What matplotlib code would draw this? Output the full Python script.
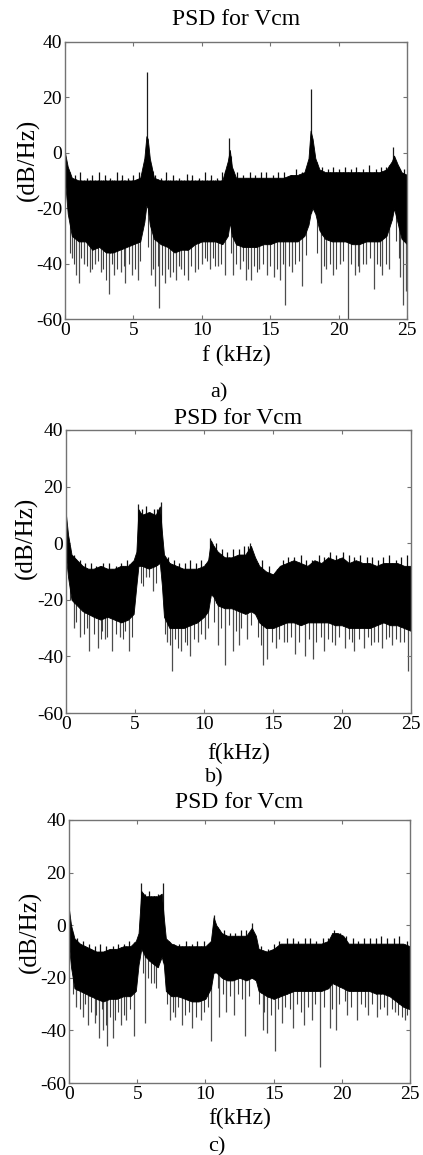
import numpy as np
import matplotlib
matplotlib.use('Agg')
import matplotlib.pyplot as plt

plt.rcParams['font.family'] = ['Liberation Serif', 'DejaVu Serif']
plt.rcParams['axes.unicode_minus'] = False

# ---------------- data ----------------
# dense band of the PSD trace: frequency (kHz), top and bottom (dB/Hz)
# up_* : tall spikes above the band, dn_* : deep spikes below it
# top_* / fz_* : short ticks that make the ragged upper / lower edge

a_f = [0, 0.2, 0.5, 1, 1.5, 2, 2.5, 3, 3.5, 4, 4.5, 5, 5.5, 5.8, 5.95, 6.05, 6.2, 6.5, 7, 7.5, 8, 8.5, 9, 9.5,
       10, 10.5, 11, 11.5, 11.9, 12.05, 12.2, 12.5, 13, 13.5, 14, 14.5, 15, 15.5, 16, 16.5, 17, 17.5, 17.8,
       17.95, 18.1, 18.3, 18.6, 19, 19.5, 20, 20.5, 21, 21.5, 22, 22.5, 23, 23.5, 23.9, 24.05, 24.3, 24.6, 25]
a_hi = [0, -5, -9, -10, -10, -10, -10, -10, -10, -10, -10, -10, -9, -2, 6, 5, -2, -9, -10, -10, -10, -10, -10, -10,
        -10, -10, -10, -10, -3, 1, -5, -9, -9, -9, -9, -9, -9, -9, -9, -8, -8, -7, -2,
        8, 5, -2, -6, -7, -7, -7, -7, -7, -7, -7, -7, -7, -6, -3, -1, -4, -7, -8]
a_lo = [-10, -22, -30, -32, -32, -35, -34, -36, -36, -35, -34, -33, -32, -25, -19, -20, -26, -31, -33, -34, -36, -35, -35, -33,
        -32, -32, -32, -33, -30, -25, -30, -33, -34, -34, -34, -33, -33, -32, -32, -32, -32, -30, -26,
        -22, -20, -22, -28, -31, -32, -32, -32, -33, -33, -32, -32, -32, -30, -24, -20, -25, -31, -33]
a_up_f = [5.97, 12.0, 17.97, 24.0]
a_up_v = [29, 5.5, 23, 2]
a_top_f = [0.7, 1.1, 1.6, 2.0, 2.5, 2.9, 3.3, 3.8, 4.2, 4.6, 5.0, 5.4, 6.6, 7.0, 7.4, 7.9, 8.3, 8.9, 9.3, 9.8,
           10.2, 10.7, 11.1, 11.5, 12.6, 13.0, 13.5, 13.9, 14.3, 14.7, 15.2, 15.6, 16.0, 16.5, 16.9, 17.3,
           18.8, 19.2, 19.6, 20.0, 20.5, 20.9, 21.3, 21.8, 22.2, 22.7, 23.1, 23.5, 24.4, 24.8]
a_top_v = [-8, -7, -9, -8, -7, -8, -9, -7, -8, -9, -8, -7, -8, -9, -7, -8, -9, -7.5, -8, -9,
           -7, -8, -9, -7, -7, -8, -7, -8, -7, -7, -8, -7, -7, -8, -6, -7,
           -5, -6, -5, -6, -5, -6, -5, -6, -4.5, -6, -5, -5, -6, -6]
a_dn_f = [0.5, 0.8, 1.0, 1.4, 1.8, 2.2, 2.6, 3.2, 3.6, 4.1, 4.4, 4.9, 5.3, 6.3, 6.6, 6.9, 7.3, 7.7, 8.1, 8.5,
          9.0, 9.5, 10.0, 10.6, 11.2, 11.7, 12.3, 12.8, 13.2, 13.6, 14.2, 14.8, 15.3, 15.7, 16.1, 16.6, 17.3,
          18.7, 19.1, 19.6, 20.1, 20.7, 21.2, 21.5, 22.0, 22.6, 23.2, 23.7, 24.5, 24.7, 24.9]
a_dn_v = [-38, -44, -47, -40, -43, -40, -43, -51, -44, -43, -47, -44, -46, -44, -48, -56, -47, -45, -46, -42,
          -46, -43, -40, -42, -41, -44, -44, -42, -46, -46, -42, -44, -45, -46, -55, -43, -48,
          -47, -42, -44, -40, -61, -44, -43, -40, -49, -44, -42, -45, -55, -50]
a_fz_f = [0.35, 0.65, 1.2, 1.6, 2.0, 2.4, 2.8, 3.0, 3.4, 3.8, 4.3, 4.7, 5.1, 5.5, 6.1, 6.4, 6.8, 7.1, 7.5, 7.9,
          8.3, 8.7, 9.2, 9.7, 10.2, 10.4, 10.8, 11.0, 11.4, 12.1, 12.5, 13.0, 13.4, 13.8, 14.0, 14.5, 15.0,
          15.5, 15.9, 16.4, 16.8, 17.1, 17.6, 18.4, 18.9, 19.4, 19.8, 20.3, 20.9, 21.4, 21.8, 22.3, 22.8,
          23.0, 23.5, 24.2, 24.4]
a_fz_v = [-36, -40, -38, -41, -42, -39, -42, -46, -40, -42, -41, -40, -42, -39, -34, -42, -41, -44, -42, -43,
          -41, -44, -41, -42, -38, -39, -38, -41, -40, -36, -40, -39, -42, -41, -43, -40, -41,
          -42, -40, -41, -40, -39, -37, -36, -41, -40, -42, -39, -40, -41, -40, -38, -40,
          -41, -40, -32, -38]

b_f = [0, 0.15, 0.4, 0.8, 1.2, 1.6, 2, 2.5, 3, 3.5, 4, 4.5, 4.9, 5.1, 5.25, 5.5, 6, 6.5, 6.8, 6.95, 7.1, 7.5, 8,
       8.5, 9, 9.5, 10, 10.3, 10.5, 10.7, 11, 11.5, 12, 12.5, 13, 13.4, 13.7, 14, 14.5, 15, 15.5, 16, 16.5, 17,
       17.5, 18, 18.5, 19, 19.5, 20, 20.5, 21, 21.5, 22, 22.5, 23, 23.5, 24, 24.5, 25]
b_hi = [10, 3, -4, -6, -8, -9, -9, -8, -9, -9, -8, -8, -6, -3, 12, 10, 11, 10, 13, 4, -4, -7, -8,
        -9, -9, -9, -8, -6, 1, -1, -3, -5, -5, -4, -4, -1, -5, -8, -10, -11, -8, -7, -6, -7,
        -8, -6, -7, -5, -6, -5, -7, -6, -7, -7, -8, -7, -7, -7, -8, -8]
b_lo = [-5, -12, -20, -22, -24, -25, -26, -27, -26, -27, -28, -27, -25, -15, -8, -8, -9, -8, -7, -15, -26, -30, -30,
        -30, -29, -28, -26, -24, -18, -19, -22, -23, -23, -24, -25, -24, -25, -28, -30, -30, -29, -28, -28, -29,
        -28, -28, -28, -28, -29, -29, -30, -30, -30, -30, -29, -28, -29, -29, -30, -31]
b_up_f = [5.25, 6.85, 10.45, 13.3]
b_up_v = [14, 14.5, 2, 0]
b_top_f = [0.6, 1.0, 1.4, 1.8, 2.2, 2.7, 3.1, 3.6, 4.0, 4.4, 5.5, 5.8, 6.1, 6.4, 6.6, 7.4, 7.8, 8.2, 8.6, 9.0,
           9.4, 9.8, 10.9, 11.3, 11.7, 12.1, 12.5, 12.9, 13.2, 14.2, 14.7, 15.3, 15.7, 16.1, 16.5, 17.0, 17.4,
           17.8, 18.3, 18.7, 19.1, 19.6, 20.1, 20.5, 20.9, 21.3, 21.8, 22.2, 22.6, 23.0, 23.4, 23.9, 24.3, 24.7]
b_top_v = [-4, -6, -7, -7, -8, -7, -7, -8, -7, -6, 12, 13, 11, 12, 12, -5, -6, -7, -7, -6,
           -7, -6, 0, -2, -3, -2, -2, -1, -1, -6, -8, -9, -6, -5, -5, -4, -6,
           -6, -4, -5, -3, -4, -3, -4, -5, -4, -5, -5, -6, -5, -4, -6, -5, -4]
b_dn_f = [0.6, 1.0, 1.7, 2.3, 2.8, 3.3, 3.9, 4.6, 5.8, 6.3, 7.3, 7.7, 8.3, 9.0, 9.6, 10.1, 11.0, 11.5, 12.1, 12.5,
          13.1, 14.3, 14.6, 15.2, 15.8, 16.6, 17.3, 17.9, 18.7, 19.5, 20.2, 20.9, 21.6, 22.3, 22.9, 23.6, 24.2, 24.8]
b_dn_v = [-30, -33, -38, -37, -34, -38, -33, -38, -12, -17, -35, -45, -38, -40, -35, -34, -36, -43, -38, -36,
          -34, -43, -41, -37, -35, -39, -40, -41, -38, -36, -37, -38, -37, -35, -37, -36, -35, -45]
b_fz_f = [0.3, 0.7, 1.3, 1.5, 2.0, 2.5, 2.6, 3.0, 3.6, 4.1, 4.3, 4.8, 5.4, 5.6, 6.0, 6.5, 7.2, 7.5, 7.9, 8.1,
          8.6, 8.8, 9.3, 9.8, 10.3, 10.7, 11.2, 11.8, 12.3, 12.7, 13.4, 13.9, 14.1, 14.9, 15.4, 16.0, 16.3,
          16.9, 17.6, 18.1, 18.5, 19.0, 19.3, 19.8, 20.5, 20.7, 21.2, 21.9, 22.1, 22.6, 23.2, 23.4, 23.9, 24.5]
b_fz_v = [-20, -28, -32, -30, -32, -34, -31, -33, -32, -34, -31, -33, -14, -15, -12, -14, -32, -36, -34, -37,
          -35, -36, -34, -32, -30, -28, -30, -29, -31, -30, -29, -33, -36, -35, -34, -35, -33,
          -35, -34, -35, -33, -34, -35, -33, -34, -35, -34, -33, -36, -35, -34, -33, -34, -35]

c_f = [0, 0.15, 0.4, 0.8, 1.2, 1.6, 2, 2.5, 3, 3.5, 4, 4.5, 4.9, 5.1, 5.3, 5.6, 6, 6.5, 6.8, 6.95, 7.1, 7.5, 8,
       8.5, 9, 9.5, 10, 10.4, 10.6, 10.8, 11.2, 11.6, 12, 12.5, 13, 13.4, 13.7, 13.9, 14.5, 15, 15.5, 16, 16.5,
       17, 17.5, 18, 18.5, 19, 19.3, 19.7, 20.1, 20.5, 21, 21.5, 22, 22.5, 23, 23.5, 24, 24.5, 25]
c_hi = [6, 0, -5, -7, -8, -9, -10, -10, -9, -9, -8, -8, -6, -3, 13, 11, 11, 11, 12, 3, -5, -7, -8,
        -8, -8, -8, -8, -6, 3, 0, -3, -4, -4, -4, -4, -1, -4, -9, -10, -9, -7, -7, -7,
        -7, -7, -7, -7, -6, -3, -3, -4, -7, -7, -7, -7, -7, -7, -7, -7, -7, -8]
c_lo = [-8, -16, -24, -25, -26, -27, -28, -29, -28, -28, -27, -27, -25, -15, -9, -12, -14, -16, -12, -15, -25, -27, -27,
        -28, -29, -29, -28, -24, -18, -18, -20, -21, -21, -20, -21, -20, -21, -25, -27, -28, -27, -26, -25,
        -25, -25, -25, -25, -24, -22, -23, -24, -25, -25, -25, -25, -26, -26, -27, -29, -31, -32]
c_up_f = [5.3, 6.9, 10.6, 13.4]
c_up_v = [16, 16, 4, 1]
c_top_f = [0.6, 1.0, 1.5, 1.9, 2.3, 2.7, 3.2, 3.6, 4.0, 4.4, 5.6, 5.9, 6.2, 6.5, 7.3, 7.7, 8.1, 8.6, 9.0, 9.4,
           9.9, 11.0, 11.4, 11.8, 12.2, 12.6, 13.0, 14.1, 14.6, 15.0, 15.4, 16.0, 16.4, 16.8, 17.3, 17.7, 18.1,
           18.6, 19.0, 19.4, 19.9, 20.3, 20.8, 21.2, 21.6, 22.1, 22.5, 22.9, 23.3, 23.8, 24.2, 24.8]
c_top_v = [-5, -6, -7, -8, -7, -8, -8, -7, -7, -6, 12, 13, 11, 12, -6, -7, -7, -6, -7, -6,
           -6, -2, -2, -3, -3, -2, -2, -8, -9, -7, -6, -5, -5, -6, -5, -5, -6,
           -5, -5, -2, -3, -4, -5, -6, -5, -5, -5, -4, -5, -5, -4, -6]
c_dn_f = [0.5, 1.0, 1.4, 1.9, 2.2, 2.5, 2.8, 3.2, 3.8, 4.2, 4.8, 5.6, 6.2, 7.4, 7.8, 8.3, 9.0, 9.7, 10.4, 11.0,
          11.5, 12.1, 12.9, 14.2, 14.5, 15.1, 15.6, 16.4, 17.2, 17.8, 18.4, 19.1, 19.6, 20.4, 21.1, 21.9,
          22.6, 23.3, 23.9, 24.6]
c_dn_v = [-31, -35, -38, -37, -43, -40, -46, -43, -38, -36, -42, -37, -22, -36, -35, -38, -39, -36, -44, -35,
          -33, -34, -42, -40, -41, -48, -37, -39, -38, -36, -54, -39, -40, -34, -36, -34,
          -35, -34, -33, -36]
c_fz_f = [0.3, 0.8, 1.2, 1.6, 2.0, 2.4, 2.7, 3.0, 3.4, 3.6, 4.0, 4.5, 5.4, 5.8, 6.0, 6.4, 7.2, 7.6, 8.0, 8.5,
          8.8, 9.3, 9.9, 10.2, 10.9, 11.3, 11.8, 12.4, 12.7, 13.2, 13.9, 14.3, 14.8, 15.3, 15.8, 16.2, 16.7,
          17.0, 17.5, 18.0, 18.7, 19.3, 19.8, 20.2, 20.7, 21.4, 21.7, 22.2, 22.8, 23.1, 23.7, 24.1, 24.4, 24.8]
c_fz_v = [-26, -32, -30, -33, -34, -32, -38, -35, -36, -33, -34, -32, -18, -20, -22, -24, -30, -33, -31, -34,
          -33, -35, -33, -31, -24, -26, -27, -26, -28, -27, -30, -33, -34, -32, -31, -32, -30,
          -33, -31, -30, -31, -32, -30, -29, -31, -30, -31, -30, -32, -31, -32, -34, -35, -34]

titles = ['PSD for Vcm', 'PSD for Vcm', 'PSD for Vcm']
xlabels = ['f (kHz)', 'f(kHz)', 'f(kHz)']
tags = ['a)', 'b)', 'c)']

panels = [
    (a_f, a_hi, a_lo, a_up_f, a_up_v, a_top_f, a_top_v, a_dn_f, a_dn_v, a_fz_f, a_fz_v),
    (b_f, b_hi, b_lo, b_up_f, b_up_v, b_top_f, b_top_v, b_dn_f, b_dn_v, b_fz_f, b_fz_v),
    (c_f, c_hi, c_lo, c_up_f, c_up_v, c_top_f, c_top_v, c_dn_f, c_dn_v, c_fz_f, c_fz_v),
]

# ---------------- layout (pixels of a 423x1155 figure) ----------------
W, H = 423, 1155
# left, top, right, bottom of each axes
boxes = [(65, 42, 407, 319), (66, 430, 411, 713), (69, 820, 410, 1083)]
title_pad = [12, 4, 8.5]
tag_pos = [(219, 393), (214, 778), (217, 1147)]
xlab_y = [355, 753, 1118]
ylab_xy = [(-0.073, 0.574), (-0.081, 0.62), (-0.079, 0.574)]

fig = plt.figure(figsize=(W / 100, H / 100), dpi=100)

for i, (f, hi, lo, up_f, up_v, top_f, top_v, dn_f, dn_v, fz_f, fz_v) in enumerate(panels):
    l, t, r, b = boxes[i]
    ax = fig.add_axes([l / W, 1 - b / H, (r - l) / W, (b - t) / H])

    # ragged lower edge and deep spikes (grey), kept behind the band
    ax.vlines(fz_f, fz_v, np.interp(fz_f, f, hi), color='0.25', lw=0.8, zorder=1)
    ax.vlines(dn_f, dn_v, np.interp(dn_f, f, hi), color='0.3', lw=0.9, zorder=1)
    # ragged upper edge and tall spikes
    ax.vlines(top_f, np.interp(top_f, f, lo), top_v, color='0.05', lw=0.9, zorder=1)
    ax.vlines(up_f, np.interp(up_f, f, lo), up_v, color='0.1', lw=0.9, zorder=1)
    # dense part of the trace
    ax.fill_between(f, lo, hi, color='black', lw=0.6, zorder=2)

    ax.set_xlim(0, 25)
    ax.set_ylim(-60, 40)
    ax.set_xticks([0, 5, 10, 15, 20, 25])
    ax.set_yticks([-60, -40, -20, 0, 20, 40])
    ax.tick_params(direction='in', length=3, width=0.8, color='0.45', labelsize=14,
                   top=True, right=True, pad=2)
    for s in ax.spines.values():
        s.set_color('0.45')
        s.set_linewidth(1.0)
        s.set_zorder(3)

    ax.set_title(titles[i], fontsize=17, pad=title_pad[i])
    ax.set_ylabel('(dB/Hz)', fontsize=18)
    ax.yaxis.set_label_coords(*ylab_xy[i])
    fig.text((l + r) / 2 / W, 1 - xlab_y[i] / H, xlabels[i], fontsize=17, ha='center', va='center')
    fig.text(tag_pos[i][0] / W, 1 - tag_pos[i][1] / H, tags[i], fontsize=16, ha='center', va='center')

fig.savefig('out.png', dpi=100)
